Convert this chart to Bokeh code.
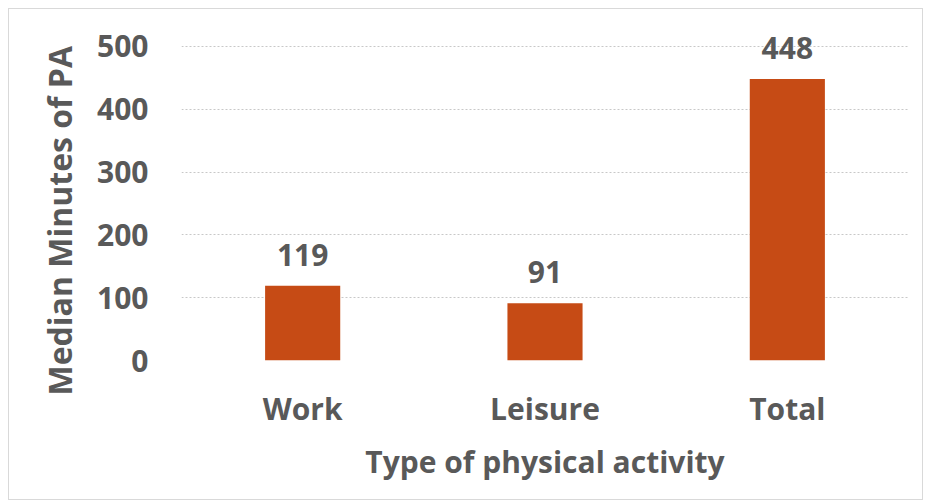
from bokeh.plotting import figure
from bokeh.models import ColumnDataSource, LabelSet, Range1d, FixedTicker, Title
from bokeh.core.properties import value
from bokeh.embed import file_html
from bokeh.resources import INLINE

categories = ["Work", "Leisure", "Total"]
values = [119, 91, 448]
labels = ["119", "91", "448"]
y_ticks = [0, 100, 200, 300, 400, 500]
y_title = "Median Minutes of PA"
x_title = "Type of physical activity"

FONT = "Open Sans"
TXT = "#595959"
BAR = "#C64B15"
FS = "30px"

src = ColumnDataSource(dict(cat=categories, val=values, lab=labels))

p = figure(x_range=categories, y_range=Range1d(0, 530), width=915, height=492,
           output_backend="svg", toolbar_location=None,
           min_border_left=172, min_border_right=16, min_border_top=18, min_border_bottom=141,
           styles={"border": "1px solid #d9d9d9", "margin-left": "8px", "margin-top": "8px"})
p.outline_line_color = None
p.vbar(x="cat", top="val", width=0.31, source=src, fill_color=BAR, line_color=None)

p.add_layout(LabelSet(x="cat", y="val", text="lab", source=src, y_offset=20,
                      text_align="center", text_baseline="bottom",
                      text_font=value(FONT), text_font_style="bold", text_font_size=FS,
                      text_color=TXT))

p.xgrid.grid_line_color = None
p.ygrid.grid_line_color = "#c8c8c8"
p.ygrid.grid_line_dash = "2 2"
p.ygrid.grid_line_width = 1

p.yaxis.ticker = FixedTicker(ticks=y_ticks)
p.yaxis.axis_line_color = None
p.yaxis.major_tick_line_color = None
p.yaxis.minor_tick_line_color = None
p.yaxis.major_tick_out = 0
p.yaxis.major_label_standoff = 33

p.add_layout(Title(text=y_title, align="left", offset=-35, standoff=27,
                   text_font=FONT, text_font_style="bold", text_font_size="32px",
                   text_color=TXT), "left")

p.xaxis.axis_line_color = None
p.xaxis.major_tick_line_color = None
p.xaxis.major_tick_out = 0
p.xaxis.major_label_standoff = 27
p.xaxis.axis_label = x_title
p.xaxis.axis_label_standoff = 9

for ax in (p.xaxis, p.yaxis):
    ax.major_label_text_font = FONT
    ax.major_label_text_font_style = "bold"
    ax.major_label_text_font_size = FS
    ax.major_label_text_color = TXT
    ax.axis_label_text_font = FONT
    ax.axis_label_text_font_style = "bold"
    ax.axis_label_text_font_size = FS
    ax.axis_label_text_color = TXT

p.x_range.range_padding = 0

open("out.html", "w").write(file_html(p, INLINE))
